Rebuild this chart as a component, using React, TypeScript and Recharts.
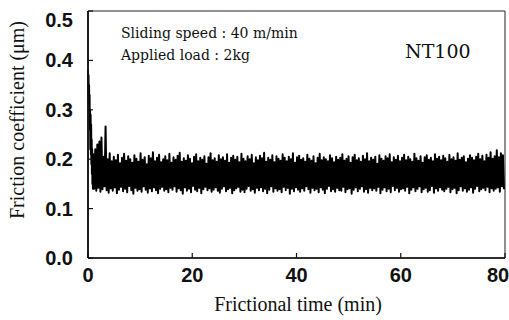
import React from "react";
import {
  ComposedChart,
  Line,
  XAxis,
  YAxis,
  ReferenceArea,
  Customized,
} from "recharts";

// Initial run-in transient (time in min, friction coefficient)
const startTimes = [0, 0.05, 0.1, 0.15, 0.2, 0.25, 0.3, 0.35, 0.4, 0.45, 0.5, 0.55, 0.6, 0.65, 0.7, 0.75, 0.8, 0.85, 0.9, 0.95];
const startValues = [0.38, 0.33, 0.37, 0.31, 0.35, 0.3, 0.33, 0.26, 0.3, 0.22, 0.29, 0.21, 0.27, 0.19, 0.24, 0.17, 0.22, 0.15, 0.21, 0.14];

const bandStart = 1;
const bandStep = 0.1975;
const highs = [
  0.21, 0.22, 0.23, 0.236, 0.244, 0.205, 0.266, 0.2, 0.212, 0.196,
  0.205, 0.198, 0.209, 0.192, 0.203, 0.211, 0.197, 0.206, 0.2, 0.193,
  0.208, 0.201, 0.195, 0.212, 0.199, 0.204, 0.19, 0.207, 0.202, 0.214,
  0.196, 0.203, 0.209, 0.194, 0.2, 0.206, 0.198, 0.211, 0.193, 0.204,
  0.199, 0.207, 0.213, 0.195, 0.202, 0.197, 0.208, 0.201, 0.192, 0.205,
  0.21, 0.196, 0.203, 0.199, 0.206, 0.191, 0.204, 0.212, 0.198, 0.202,
  0.195, 0.208, 0.2, 0.204, 0.197, 0.21, 0.193, 0.203, 0.207, 0.199,
  0.205, 0.194, 0.211, 0.201, 0.196, 0.206, 0.2, 0.209, 0.192, 0.204,
  0.198, 0.207, 0.202, 0.213, 0.195, 0.203, 0.199, 0.208, 0.194, 0.206,
  0.201, 0.197, 0.21, 0.203, 0.196, 0.205, 0.2, 0.212, 0.193, 0.204,
  0.207, 0.199, 0.202, 0.195, 0.209, 0.201, 0.197, 0.206, 0.192, 0.203,
  0.211, 0.198, 0.204, 0.2, 0.196, 0.208, 0.202, 0.194, 0.205, 0.199,
  0.203, 0.21, 0.197, 0.201, 0.206, 0.193, 0.204, 0.209, 0.198, 0.202,
  0.195, 0.207, 0.2, 0.212, 0.196, 0.203, 0.199, 0.205, 0.191, 0.208,
  0.201, 0.197, 0.206, 0.202, 0.21, 0.194, 0.204, 0.199, 0.207, 0.196,
  0.203, 0.209, 0.198, 0.205, 0.2, 0.195, 0.211, 0.202, 0.197, 0.206,
  0.193, 0.204, 0.208, 0.199, 0.203, 0.196, 0.21, 0.201, 0.205, 0.198,
  0.207, 0.202, 0.195, 0.209, 0.2, 0.204, 0.197, 0.212, 0.199, 0.203,
  0.206, 0.194, 0.201, 0.208, 0.203, 0.198, 0.205, 0.211, 0.2, 0.207,
  0.196, 0.209, 0.203, 0.214, 0.201, 0.206, 0.218, 0.204, 0.212, 0.208,
];
const lows = [
  0.14, 0.136, 0.142, 0.134, 0.139, 0.145, 0.137, 0.132, 0.141, 0.136,
  0.143, 0.131, 0.138, 0.144, 0.135, 0.14, 0.133, 0.146, 0.137, 0.13,
  0.142, 0.136, 0.139, 0.134, 0.145, 0.138, 0.132, 0.141, 0.135, 0.143,
  0.137, 0.131, 0.14, 0.144, 0.136, 0.139, 0.133, 0.142, 0.138, 0.145,
  0.134, 0.141, 0.137, 0.13, 0.143, 0.136, 0.14, 0.133, 0.146, 0.138,
  0.135, 0.142, 0.131, 0.139, 0.144, 0.137, 0.141, 0.134, 0.138, 0.143,
  0.136, 0.132, 0.14, 0.145, 0.135, 0.139, 0.142, 0.131, 0.137, 0.141,
  0.144, 0.134, 0.138, 0.133, 0.14, 0.146, 0.136, 0.139, 0.132, 0.142,
  0.137, 0.143, 0.135, 0.14, 0.131, 0.138, 0.145, 0.134, 0.141, 0.136,
  0.139, 0.133, 0.144, 0.137, 0.142, 0.13, 0.14, 0.135, 0.143, 0.138,
  0.134, 0.141, 0.136, 0.145, 0.139, 0.132, 0.142, 0.137, 0.14, 0.133,
  0.143, 0.138, 0.131, 0.14, 0.146, 0.135, 0.139, 0.134, 0.142, 0.137,
  0.136, 0.144, 0.133, 0.139, 0.141, 0.13, 0.138, 0.143, 0.135, 0.14,
  0.145, 0.134, 0.139, 0.132, 0.142, 0.137, 0.141, 0.136, 0.144, 0.131,
  0.138, 0.143, 0.135, 0.14, 0.133, 0.146, 0.137, 0.142, 0.134, 0.139,
  0.141, 0.136, 0.144, 0.131, 0.138, 0.143, 0.135, 0.14, 0.145, 0.133,
  0.139, 0.142, 0.134, 0.137, 0.146, 0.132, 0.141, 0.136, 0.143, 0.138,
  0.135, 0.14, 0.144, 0.133, 0.139, 0.142, 0.131, 0.137, 0.145, 0.136,
  0.141, 0.134, 0.138, 0.143, 0.132, 0.14, 0.146, 0.135, 0.139, 0.142,
  0.137, 0.144, 0.133, 0.141, 0.136, 0.14, 0.143, 0.134, 0.145, 0.139,
];

const xTicks = [0, 20, 40, 60, 80];
const yTicks = [0, 0.1, 0.2, 0.3, 0.4, 0.5];

const data = [
  ...startTimes.map((t, i) => ({ t, v: startValues[i] })),
  ...highs.flatMap((h, i) => [
    { t: bandStart + 2 * i * bandStep, v: h },
    { t: bandStart + (2 * i + 1) * bandStep, v: lows[i] },
  ]),
];

const tickFont = "'Liberation Sans', Arial, sans-serif";
const serif = "'Liberation Serif', 'Times New Roman', serif";
const slab = "'DejaVu Serif', serif";

const XTick = (props: any) => {
  const { x, y, payload } = props;
  const dx = payload.value === 80 ? -7 : 0;
  return (
    <text x={x + dx} y={y} dy={14} textAnchor="middle" fontFamily={tickFont} fontWeight="bold" fontSize={20} fill="#111">
      {payload.value}
    </text>
  );
};

const YTick = (props: any) => {
  const { x, y, payload } = props;
  const dy = payload.value === 0.5 ? 9 : 0;
  return (
    <text x={x} y={y + dy} dy={7} textAnchor="end" fontFamily={tickFont} fontWeight="bold" fontSize={20} fill="#111">
      {Number(payload.value).toFixed(1)}
    </text>
  );
};

const Annotations = () => (
  <g>
    <text x={17} y={120} transform="rotate(-90 17 120)" textAnchor="middle" dominantBaseline="central" fontFamily={serif} fontSize={20} fill="#111">
      Friction coefficient (μm)
    </text>
    <text x={298} y={311} textAnchor="middle" fontFamily={serif} fontSize={20} fill="#111">
      Frictional time (min)
    </text>
    <text x={121} y={38} fontFamily={slab} fontSize={14} fill="#111">
      Sliding speed : 40 m/min
    </text>
    <text x={121} y={60} fontFamily={slab} fontSize={14} fill="#111">
      Applied load : 2kg
    </text>
    <text x={405} y={58} fontFamily={slab} fontSize={19} fill="#111">
      NT100
    </text>
  </g>
);

export default function App() {
  return (
    <div style={{ position: "absolute", left: 0, top: 0, width: 509, height: 320, background: "#fff" }}>
      <ComposedChart width={509} height={320} data={data} margin={{ top: 11, right: 4, bottom: 32, left: 38 }}>
        <XAxis
          dataKey="t"
          type="number"
          domain={[0, 80]}
          ticks={xTicks}
          interval={0}
          height={30}
          tickSize={-5}
          tickMargin={15}
          tick={<XTick />}
          axisLine={{ stroke: "#111", strokeWidth: 1.5 }}
          tickLine={{ stroke: "#111", strokeWidth: 1.2 }}
        />
        <YAxis
          type="number"
          domain={[0, 0.5]}
          ticks={yTicks}
          interval={0}
          width={50}
          tickSize={-5}
          tickMargin={20}
          tick={<YTick />}
          axisLine={{ stroke: "#111", strokeWidth: 1.8 }}
          tickLine={{ stroke: "#111", strokeWidth: 1.2 }}
        />
        <ReferenceArea x1={0} x2={80} y1={0} y2={0.5} fill="none" stroke="#222" strokeWidth={1} ifOverflow="visible" />
        <Line dataKey="v" type="linear" stroke="#000" strokeWidth={2} strokeLinejoin="round" dot={false} isAnimationActive={false} />
        <Customized component={Annotations} />
      </ComposedChart>
    </div>
  );
}
